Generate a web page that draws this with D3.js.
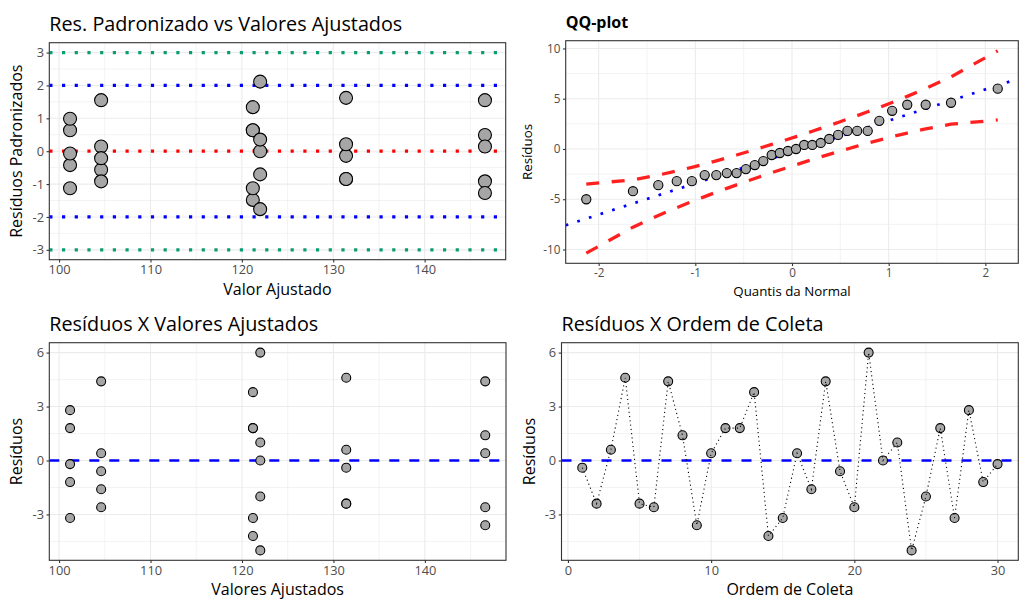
<!DOCTYPE html>
<html>
<head>
<meta charset="utf-8">
<script src="https://cdn.jsdelivr.net/npm/d3@7"></script>
<style>
  html, body { margin: 0; padding: 0; background: #ffffff; }
  svg { display: block; font-family: "Open Sans", "Noto Sans", sans-serif; }
</style>
</head>
<body>
<svg id="chart" width="1034" height="612"></svg>
<script>
// ---------------- DATA ----------------
const ordem = [1,2,3,4,5,6,7,8,9,10,11,12,13,14,15,16,17,18,19,20,21,22,23,24,25,26,27,28,29,30];
const residuos = [-0.4,-2.4,0.6,4.6,-2.4,-2.6,4.4,1.4,-3.6,0.4,1.8,1.8,3.8,-4.2,-3.2,0.4,-1.6,4.4,-0.6,-2.6,6.0,0.0,1.0,-5.0,-2.0,1.8,-3.2,2.8,-1.2,-0.2];
const ajustados = [131.4,131.4,131.4,131.4,131.4,146.6,146.6,146.6,146.6,146.6,121.2,121.2,121.2,121.2,121.2,104.6,104.6,104.6,104.6,104.6,122.0,122.0,122.0,122.0,122.0,101.2,101.2,101.2,101.2,101.2];
const resPadronizados = [-0.141,-0.846,0.212,1.622,-0.846,-0.917,1.552,0.494,-1.270,0.141,0.635,0.635,1.340,-1.481,-1.128,0.141,-0.564,1.552,-0.212,-0.917,2.116,0.000,0.353,-1.763,-0.705,0.635,-1.128,0.987,-0.423,-0.071];

// QQ-plot
const quantisNormal = [-2.128,-1.645,-1.383,-1.192,-1.036,-0.903,-0.783,-0.674,-0.573,-0.477,-0.385,-0.297,-0.210,-0.126,-0.042,0.042,0.126,0.210,0.297,0.385,0.477,0.573,0.674,0.783,0.903,1.036,1.192,1.383,1.645,2.128];
const residuosOrdenados = [-5.0,-4.2,-3.6,-3.2,-3.2,-2.6,-2.6,-2.4,-2.4,-2.0,-1.6,-1.2,-0.6,-0.4,-0.2,0.0,0.4,0.4,0.6,1.0,1.4,1.8,1.8,1.8,2.8,3.8,4.4,4.4,4.6,6.0];
const bandaSuperior = [-3.486,-3.067,-2.597,-2.187,-1.820,-1.487,-1.175,-0.881,-0.601,-0.329,-0.064,0.194,0.454,0.709,0.966,1.228,1.493,1.762,2.044,2.334,2.641,2.967,3.317,3.701,4.137,4.632,5.235,6.015,7.177,9.766];
const bandaInferior = [-10.366,-7.777,-6.615,-5.835,-5.232,-4.737,-4.301,-3.917,-3.567,-3.241,-2.934,-2.644,-2.362,-2.093,-1.828,-1.566,-1.309,-1.054,-0.794,-0.536,-0.271,0.001,0.281,0.575,0.887,1.220,1.587,1.997,2.467,2.886];
const qqIntercepto = -0.3;
const qqInclinacao = 3.1135;

// reference lines of the standardized plot
const linhasPadronizadas = [
  { y: 3, cor: "#0c9c72" }, { y: -3, cor: "#0c9c72" },
  { y: 2, cor: "#0000ff" }, { y: -2, cor: "#0000ff" },
  { y: 0, cor: "#ff0000" }
];

// tick labels
const ticksAjustados = [100, 110, 120, 130, 140];
const minorAjustados = [105, 115, 125, 135, 145];
const ticksPadron = [-3, -2, -1, 0, 1, 2, 3];
const minorPadron = [-2.5, -1.5, -0.5, 0.5, 1.5, 2.5];
const ticksQQx = [-2, -1, 0, 1, 2];
const minorQQx = [-1.5, -0.5, 0.5, 1.5];
const ticksQQy = [-10, -5, 0, 5, 10];
const minorQQy = [-7.5, -2.5, 2.5, 7.5];
const ticksRes = [-3, 0, 3, 6];
const minorRes = [-4.5, -1.5, 1.5, 4.5];
const ticksOrdem = [0, 10, 20, 30];
const minorOrdem = [5, 15, 25];

// ---------------- DRAWING ----------------
const svg = d3.select("#chart");
const GRID = "#ebebeb";
const BORDER = "#333333";
const TICKTXT = "#4d4d4d";
const PFILL = "#a6a6a6";

function expand(ext, f = 0.05) {
  const r = ext[1] - ext[0];
  return [ext[0] - r * f, ext[1] + r * f];
}

let clipId = 0;
function panel(o) {
  const xs = d3.scaleLinear().domain(o.xdom).range([o.x0, o.x1]);
  const ys = d3.scaleLinear().domain(o.ydom).range([o.y1, o.y0]);
  const g = svg.append("g");
  const id = "clip" + (clipId++);
  g.append("clipPath").attr("id", id).append("rect")
    .attr("x", o.x0).attr("y", o.y0).attr("width", o.x1 - o.x0).attr("height", o.y1 - o.y0);
  // minor grid
  g.selectAll(null).data(o.xminor).enter().append("line")
    .attr("x1", d => xs(d)).attr("x2", d => xs(d)).attr("y1", o.y0).attr("y2", o.y1)
    .attr("stroke", GRID).attr("stroke-width", 0.6);
  g.selectAll(null).data(o.yminor).enter().append("line")
    .attr("y1", d => ys(d)).attr("y2", d => ys(d)).attr("x1", o.x0).attr("x2", o.x1)
    .attr("stroke", GRID).attr("stroke-width", 0.6);
  // major grid
  g.selectAll(null).data(o.xticks).enter().append("line")
    .attr("x1", d => xs(d)).attr("x2", d => xs(d)).attr("y1", o.y0).attr("y2", o.y1)
    .attr("stroke", GRID).attr("stroke-width", 1.1);
  g.selectAll(null).data(o.yticks).enter().append("line")
    .attr("y1", d => ys(d)).attr("y2", d => ys(d)).attr("x1", o.x0).attr("x2", o.x1)
    .attr("stroke", GRID).attr("stroke-width", 1.1);
  const content = g.append("g").attr("clip-path", `url(#${id})`);
  // axes
  const ax = g.append("g").attr("transform", `translate(0,${o.y1})`)
    .call(d3.axisBottom(xs).tickValues(o.xticks).tickSize(2.75).tickPadding(2.6).tickFormat(d3.format("d")));
  const ay = g.append("g").attr("transform", `translate(${o.x0},0)`)
    .call(d3.axisLeft(ys).tickValues(o.yticks).tickSize(2.75).tickPadding(2.6).tickFormat(d => String(d)));
  [ax, ay].forEach(a => {
    a.select(".domain").remove();
    a.selectAll(".tick line").attr("stroke", BORDER).attr("stroke-width", 1.1);
    a.selectAll(".tick text").attr("fill", TICKTXT).style("font-size", o.tickSize + "px")
      .style("font-family", '"Open Sans", sans-serif');
  });
  ax.selectAll(".tick text").text(d => String(d));
  ay.selectAll(".tick text").text(d => String(d));
  const border = () => g.append("rect")
    .attr("x", o.x0).attr("y", o.y0).attr("width", o.x1 - o.x0).attr("height", o.y1 - o.y0)
    .attr("fill", "none").attr("stroke", BORDER).attr("stroke-width", 1.1);
  // titles
  g.append("text").attr("x", o.x0).attr("y", o.titleY).text(o.title)
    .style("font-size", o.titleSize + "px").style("font-weight", o.titleBold ? "700" : "400")
    .attr("fill", "#000");
  g.append("text").attr("x", (o.x0 + o.x1) / 2).attr("y", o.xlabY).attr("text-anchor", "middle")
    .text(o.xlab).style("font-size", o.labSize + "px").attr("fill", "#000");
  g.append("text").attr("transform", `translate(${o.ylabX},${(o.y0 + o.y1) / 2}) rotate(-90)`)
    .attr("text-anchor", "middle").text(o.ylab).style("font-size", o.labSize + "px").attr("fill", "#000");
  return { g, content, xs, ys, border, o };
}

// ---------- Panel 1: standardized residuals ----------
{
  const p = panel({
    x0: 49.3, x1: 505.7, y0: 42.7, y1: 259.7,
    xdom: expand(d3.extent(ajustados)), ydom: expand([-3, 3]),
    xticks: ticksAjustados, xminor: minorAjustados, yticks: ticksPadron, yminor: minorPadron,
    tickSize: 12.8, title: "Res. Padronizado vs Valores Ajustados", titleY: 30.5, titleSize: 19.8,
    xlab: "Valor Ajustado", xlabY: 295, ylab: "Resíduos Padronizados", ylabX: 22, labSize: 16
  });
  p.content.selectAll(null).data(linhasPadronizadas).enter().append("line")
    .attr("x1", p.o.x0).attr("x2", p.o.x1)
    .attr("y1", d => p.ys(d.y)).attr("y2", d => p.ys(d.y))
    .attr("stroke", d => d.cor).attr("stroke-width", 3.2).attr("stroke-dasharray", "3.2 9.5");
  p.content.selectAll(null).data(d3.range(ajustados.length)).enter().append("circle")
    .attr("cx", i => p.xs(ajustados[i])).attr("cy", i => p.ys(resPadronizados[i])).attr("r", 6.5)
    .attr("fill", PFILL).attr("stroke", "#000").attr("stroke-width", 1.1);
  p.border();
}

// ---------- Panel 2: QQ-plot ----------
{
  const p = panel({
    x0: 565.7, x1: 1018.3, y0: 40.7, y1: 263.3,
    xdom: expand(d3.extent(quantisNormal)), ydom: expand([d3.min(bandaInferior), d3.max(bandaSuperior)]),
    xticks: ticksQQx, xminor: minorQQx, yticks: ticksQQy, yminor: minorQQy,
    tickSize: 11.7, title: "QQ-plot", titleY: 27.5, titleSize: 16, titleBold: true,
    xlab: "Quantis da Normal", xlabY: 295.5, ylab: "Resíduos", ylabX: 532, labSize: 13.3
  });
  const lineU = d3.line().x((d, i) => p.xs(quantisNormal[i])).y(d => p.ys(d));
  [bandaSuperior, bandaInferior].forEach(b => {
    p.content.append("path").attr("d", lineU(b)).attr("fill", "none")
      .attr("stroke", "#ff2020").attr("stroke-width", 3.3).attr("stroke-dasharray", "13 12.5");
  });
  const xd = p.xs.domain();
  p.content.append("line")
    .attr("x1", p.xs(xd[0])).attr("y1", p.ys(qqIntercepto + qqInclinacao * xd[0]))
    .attr("x2", p.xs(xd[1])).attr("y2", p.ys(qqIntercepto + qqInclinacao * xd[1]))
    .attr("stroke", "#0000ff").attr("stroke-width", 2.7).attr("stroke-dasharray", "2.7 9.5");
  p.content.selectAll(null).data(d3.range(quantisNormal.length)).enter().append("circle")
    .attr("cx", i => p.xs(quantisNormal[i])).attr("cy", i => p.ys(residuosOrdenados[i])).attr("r", 4.6)
    .attr("fill", PFILL).attr("stroke", "#000").attr("stroke-width", 1.1);
  p.border();
}

// ---------- Panel 3: residuals vs fitted ----------
{
  const p = panel({
    x0: 49.3, x1: 506, y0: 342.7, y1: 560.3,
    xdom: expand(d3.extent(ajustados)), ydom: expand(d3.extent(residuos)),
    xticks: ticksAjustados, xminor: minorAjustados, yticks: ticksRes, yminor: minorRes,
    tickSize: 12.8, title: "Resíduos X Valores Ajustados", titleY: 330.5, titleSize: 19.8,
    xlab: "Valores Ajustados", xlabY: 595, ylab: "Resíduos", ylabX: 22, labSize: 16
  });
  p.content.append("line").attr("x1", p.o.x0).attr("x2", p.o.x1)
    .attr("y1", p.ys(0)).attr("y2", p.ys(0))
    .attr("stroke", "#0000ff").attr("stroke-width", 2.7).attr("stroke-dasharray", "10 10");
  p.content.selectAll(null).data(d3.range(ajustados.length)).enter().append("circle")
    .attr("cx", i => p.xs(ajustados[i])).attr("cy", i => p.ys(residuos[i])).attr("r", 4.5)
    .attr("fill", PFILL).attr("stroke", "#000").attr("stroke-width", 1.1);
  p.border();
}

// ---------- Panel 4: residuals vs collection order ----------
{
  const p = panel({
    x0: 561.5, x1: 1018.3, y0: 342.7, y1: 560.3,
    xdom: expand(d3.extent(ordem)), ydom: expand(d3.extent(residuos)),
    xticks: ticksOrdem, xminor: minorOrdem, yticks: ticksRes, yminor: minorRes,
    tickSize: 12.8, title: "Resíduos X Ordem de Coleta", titleY: 330.5, titleSize: 19.8,
    xlab: "Ordem de Coleta", xlabY: 595, ylab: "Resíduos", ylabX: 535, labSize: 16
  });
  p.content.append("line").attr("x1", p.o.x0).attr("x2", p.o.x1)
    .attr("y1", p.ys(0)).attr("y2", p.ys(0))
    .attr("stroke", "#0000ff").attr("stroke-width", 2.7).attr("stroke-dasharray", "10 10");
  p.content.selectAll(null).data(d3.range(ordem.length)).enter().append("circle")
    .attr("cx", i => p.xs(ordem[i])).attr("cy", i => p.ys(residuos[i])).attr("r", 4.5)
    .attr("fill", PFILL).attr("stroke", "#000").attr("stroke-width", 1.1);
  const ln = d3.line().x((d, i) => p.xs(ordem[i])).y(d => p.ys(d));
  p.content.append("path").attr("d", ln(residuos)).attr("fill", "none")
    .attr("stroke", "#000").attr("stroke-width", 1.1).attr("stroke-dasharray", "1.1 3.2");
  p.border();
}
</script>
</body>
</html>
